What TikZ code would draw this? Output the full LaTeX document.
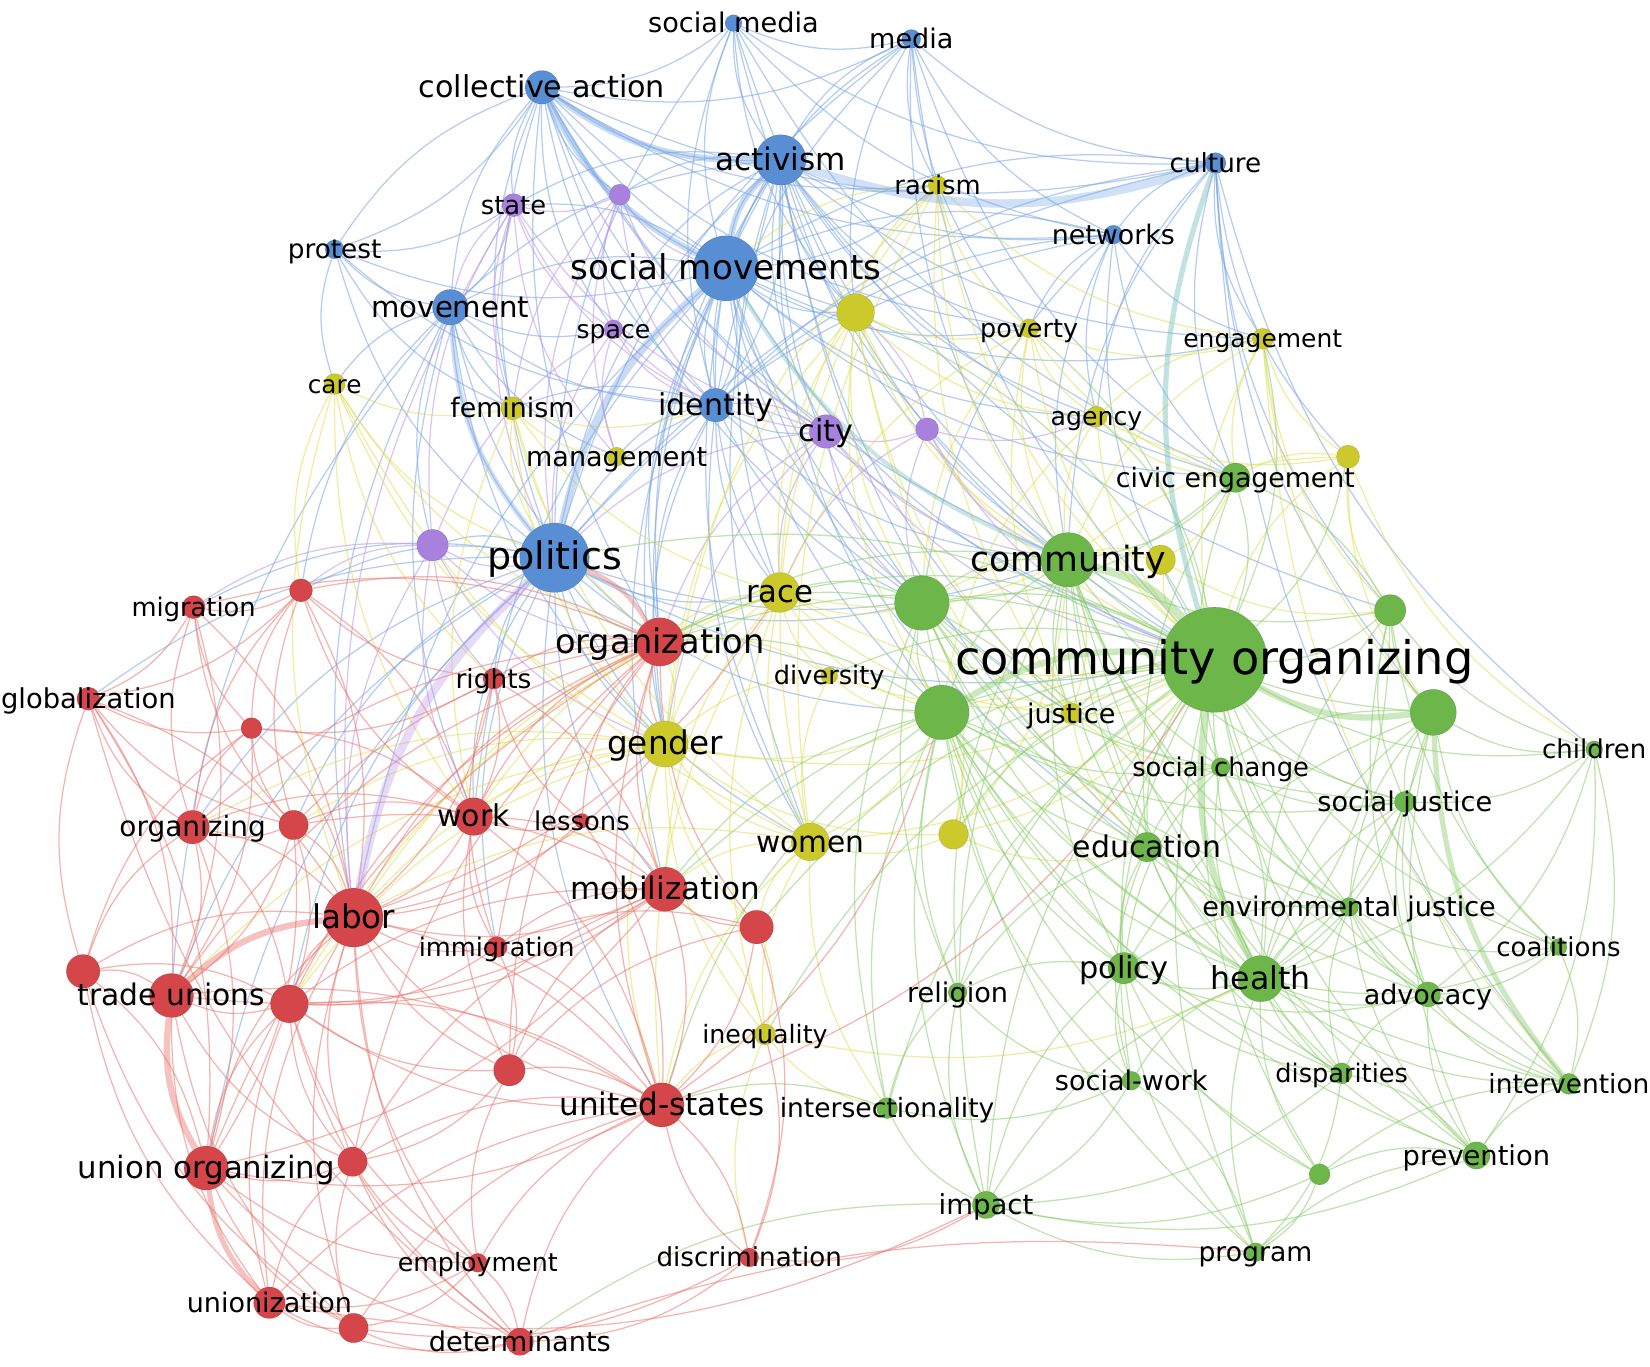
\documentclass[tikz,border=0pt]{standalone}
\usepackage{fontspec}
\setmainfont{DejaVu Sans}
\usepackage{graphicx}
\definecolor{vb}{RGB}{88,142,212}
\definecolor{vp}{RGB}{168,128,222}
\definecolor{vy}{RGB}{204,201,43}
\definecolor{vg}{RGB}{108,182,74}
\definecolor{vr}{RGB}{212,70,74}
\definecolor{eb}{RGB}{120,165,228}
\definecolor{ep}{RGB}{185,150,232}
\definecolor{ey}{RGB}{222,222,90}
\definecolor{eg}{RGB}{140,205,110}
\definecolor{er}{RGB}{232,120,112}
\definecolor{et}{RGB}{120,190,190}
\pgfdeclarelayer{bg}
\pgfsetlayers{bg,main}
\newcommand\edgefan[3]{\foreach \tg in {#3}{\draw[#1] (#2) to[bend right=18] (\tg);}}
\tikzset{
  kw/.style={circle, inner sep=0pt, draw=black, draw opacity=0.12, line width=0.3pt},
  lbl/.style={inner sep=0pt, text=black, yshift=-1.5pt},
  lk/.style={line width=0.6pt, draw opacity=0.55},
  lkB/.style={lk, draw=eb}, lkP/.style={lk, draw=ep}, lkY/.style={lk, draw=ey},
  lkG/.style={lk, draw=eg}, lkR/.style={lk, draw=er}
}
\begin{document}
\begin{tikzpicture}[x=0.5pt,y=-0.5pt]
\useasboundingbox (0,0) rectangle (1568,1299);
% nodes
\foreach \nm/\xx/\yy/\rr/\cl in {
socmedia/697/22/8/vb, media/866/37/9/vb, collact/515/83/16/vb, activism/742/152/24/vb, culture/1155/155/10/vb, networks/1058/223/9/vb, protest/318/237/9/vb, socmov/690/255/31/vb, movement/428/292/17/vb, identity/680/385/16/vb, politics/527/530/33/vb,
state/488/195/11/vp, pA/589/185/10/vp, space/583/313/9/vp, city/785/410/16/vp, pB/881/408/11/vp, pC/411/518/15/vp,
management/586/434/9/vy, racism/891/176/9/vy, yA/813/297/18/vy, poverty/978/312/9/vy, engagement/1200/322/10/vy, care/318/365/10/vy, feminism/487/388/11/vy, agency/1042/396/10/vy, yB/1281/434/11/vy, yC/1103/532/14/vy, race/741/563/19/vy, diversity/788/642/8/vy, justice/1018/678/10/vy, gender/632/707/22/vy, women/770/800/18/vy, yD/906/793/14/vy, inequality/727/983/10/vy,
civic/1174/454/14/vg, community/1015/532/26/vg, gA/876/573/26/vg, comorg/1154/627/50/vg, gB/1321/580/15/vg, gC/895/677/26/vg, gD/1362/677/22/vg, children/1515/712/8/vg, socchange/1160/729/9/vg, socjust/1335/762/10/vg, education/1090/805/14/vg, envjust/1282/862/9/vg, coalitions/1481/900/8/vg, policy/1068/920/15/vg, health/1198/930/22/vg, religion/910/943/9/vg, advocacy/1357/945/12/vg, socwork/1075/1027/9/vg, disparities/1275/1020/10/vg, intervention/1491/1030/10/vg, intersect/843/1053/10/vg, prevention/1403/1098/13/vg, gE/1254/1116/10/vg, impact/937/1145/13/vg, program/1193/1190/9/vg,
rA/286/561/11/vr, migration/184/577/11/vr, organization/627/610/23/vr, rights/469/645/10/vr, globalization/84/664/11/vr, rB/239/692/10/vr, organizing/183/786/16/vr, rC/279/784/14/vr, work/450/776/18/vr, lessons/553/780/7/vr, mobilization/632/845/21/vr, labor/336/872/28/vr, rD/719/881/16/vr, immigration/472/900/10/vr, rE/79/923/16/vr, tradeunions/163/946/21/vr, rF/275/954/18/vr, rG/484/1017/15/vr, unitedstates/629/1050/21/vr, unionorg/196/1110/21/vr, rH/335/1104/14/vr, employment/454/1200/9/vr, discrimination/712/1195/9/vr, unionization/256/1238/15/vr, rI/336/1262/14/vr, determinants/494/1275/13/vr}
  {\node[kw, fill=\cl, minimum size=\rr pt] (\nm) at (\xx,\yy) {};}
% labels
\foreach \nm/\w/\t in {
socmedia/81/social media, media/40/media, collact/117/collective action, activism/62/activism, culture/43.5/culture, networks/58.5/networks, protest/44.5/protest, socmov/147.5/social movements, movement/75/movement, identity/54.5/identity, politics/64/politics,
state/31/state, space/35/space, city/26/city, management/86/management, racism/41/racism, poverty/46.5/poverty, engagement/75.5/engagement, care/25.5/care, feminism/59/feminism, agency/43.5/agency, race/32/race, diversity/52.5/diversity, justice/42/justice, gender/55/gender, women/51.5/women, inequality/59.5/inequality,
civic/113.5/civic engagement, community/93/community, comorg/246/community organizing, children/49.5/children, socchange/84/social change, socjust/83/social justice, education/70.5/education, envjust/139.5/environmental justice, coalitions/59/coalitions, policy/42.5/policy, health/47.5/health, religion/48/religion, advocacy/61/advocacy, socwork/72.5/social-work, disparities/63/disparities, intervention/76.5/intervention, intersect/102/intersectionality, prevention/70/prevention, impact/45/impact, program/54/program,
migration/59/migration, organization/99.5/organization, rights/36/rights, globalization/83/globalization, organizing/69.5/organizing, work/34.5/work, lessons/45.5/lessons, mobilization/90/mobilization, labor/39.5/labor, immigration/74/immigration, tradeunions/89/trade unions, unitedstates/97.5/united-states, unionorg/122/union organizing, employment/76/employment, discrimination/88/discrimination, unionization/78.5/unionization, determinants/86.5/determinants}
  {\node[lbl] (l-\nm) at (\nm) {\resizebox{\w pt}{!}{\strut\t}};}
\begin{pgfonlayer}{bg}
% blue
\edgefan{lkB}{collact}{socmedia,activism,socmov,movement,protest,state,politics,identity,culture,media,pA,space,feminism,city,networks,comorg,community,organization,gA,yA,racism,poverty}
\edgefan{lkB}{socmedia}{activism,socmov,media,identity,politics,networks,culture,yA,civic,community,comorg}
\edgefan{lkB}{media}{activism,socmov,culture,networks,identity,politics,racism,poverty,comorg,community,civic,yA}
\edgefan{lkB}{activism}{socmov,politics,identity,networks,city,race,yA,community,comorg,gA,gC,gender,movement,state,pA,space,racism,poverty,organization,women,civic,engagement,agency,justice,education,gB}
\edgefan{lkB}{culture}{networks,socmov,identity,politics,gD,community,civic,engagement,agency,children,yB,gB,intervention}
\edgefan{lkB}{networks}{socmov,community,comorg,civic,gA,agency,poverty,engagement,identity,politics}
\edgefan{lkB}{protest}{movement,state,collact,socmov,politics,care,identity,feminism}
\edgefan{lkB}{socmov}{identity,movement,state,city,comorg,gA,gC,race,gender,organization,labor,work,women,justice,yA,poverty,education,civic,agency,engagement,racism,mobilization}
\edgefan{lkB}{movement}{politics,identity,state,feminism,labor,work,organization,gender,care,space,management,pC,rA,tradeunions}
\edgefan{lkB}{identity}{politics,gender,race,city,organization,women,community,gA,feminism,management,socmov,activism}
\edgefan{lkB}{politics}{organization,work,gender,race,rights,pC,community,comorg,gA,gC,mobilization,tradeunions,unitedstates,rA,migration,women,immigration,rC,rF,unionorg,globalization,organizing}
% purple
\edgefan{lkP}{state}{pA,space,politics,movement,feminism,management,city,pC,identity,labor}
\edgefan{lkP}{pA}{space,city,politics,identity,socmov,management,feminism}
\edgefan{lkP}{space}{city,politics,management,pC,identity}
\edgefan{lkP}{city}{pB,politics,community,comorg,gA,race,gender,organization,identity}
\edgefan{lkP}{pB}{community,comorg,gA,race,yA,agency}
\edgefan{lkP}{pC}{politics,organization,rA,migration,rights,work,labor,gender}
% yellow
\edgefan{lkY}{racism}{yA,poverty,race,gender,community,comorg,justice,socmov,engagement,women}
\edgefan{lkY}{yA}{poverty,race,community,comorg,gA,gC,justice,gender,women,education,agency}
\edgefan{lkY}{poverty}{agency,community,comorg,gA,civic,justice,race,engagement}
\edgefan{lkY}{engagement}{civic,comorg,community,agency,yB,gB,gD,intervention}
\edgefan{lkY}{care}{feminism,gender,work,labor,politics,women,organization,rights,rA}
\edgefan{lkY}{feminism}{gender,women,management,organization,politics,work,race,identity}
\edgefan{lkY}{agency}{civic,community,comorg,yB,gC}
\edgefan{lkY}{yB}{civic,comorg,gB,gD,children,community}
\edgefan{lkY}{yC}{community,comorg,civic,gB,gA}
\edgefan{lkY}{race}{gender,women,organization,community,comorg,gA,gC,justice,diversity,unitedstates,mobilization,labor,inequality,work,rF}
\edgefan{lkY}{diversity}{organization,gC,comorg,gender,women}
\edgefan{lkY}{justice}{comorg,community,gC,socchange,education}
\edgefan{lkY}{gender}{women,organization,mobilization,labor,work,unitedstates,inequality,rD,comorg,gC,yD,rF,tradeunions,organizing,rC}
\edgefan{lkY}{women}{mobilization,yD,inequality,unitedstates,labor,rD,gC,comorg,intersect}
\edgefan{lkY}{yD}{comorg,gC,education,community,gA}
\edgefan{lkY}{inequality}{unitedstates,intersect,health,rD,mobilization,discrimination}
% green
\edgefan{lkG}{comorg}{gA,gB,civic,socchange,socjust,education,envjust,policy,advocacy,religion,socwork,disparities,coalitions,children,intervention,prevention,impact,program,gE,intersect,justice,organization,politics,race,yA,engagement,yB,agency,poverty,rD,women,mobilization,yD,diversity,inequality}
\edgefan{lkG}{community}{gA,gC,civic,socchange,education,health,policy,gB,gD,justice,organization,socjust,advocacy,envjust,disparities,impact,religion,prevention}
\edgefan{lkG}{gA}{gC,civic,education,policy,health,religion,intersect,organization,race,socchange,socjust,envjust,advocacy}
\edgefan{lkG}{gC}{education,policy,health,religion,socwork,intersect,impact,socjust,socchange,organization,mobilization,unitedstates,prevention,disparities,program,gE,intervention}
\edgefan{lkG}{gB}{gD,civic,socjust,children,coalitions,health,advocacy}
\edgefan{lkG}{gD}{socjust,envjust,advocacy,health,children,coalitions,prevention,policy,socchange}
\edgefan{lkG}{civic}{socchange,education}
\edgefan{lkG}{socchange}{socjust,education,envjust,health,policy}
\edgefan{lkG}{socjust}{envjust,advocacy,health,coalitions,children,intervention}
\edgefan{lkG}{education}{policy,health,envjust,socwork,religion,disparities}
\edgefan{lkG}{envjust}{health,advocacy,coalitions,policy,disparities,intervention,prevention}
\edgefan{lkG}{policy}{health,advocacy,socwork,disparities,religion,impact,program,gE}
\edgefan{lkG}{health}{advocacy,disparities,prevention,intervention,socwork,program,gE,impact,coalitions,children,gC,gA,education,socchange,socjust,envjust,gD,gB}
\edgefan{lkG}{advocacy}{prevention,intervention,coalitions,disparities,children}
\edgefan{lkG}{intervention}{prevention,children,coalitions,gE}
\edgefan{lkG}{prevention}{gE,program,disparities,children}
\edgefan{lkG}{religion}{intersect,impact,socwork}
\edgefan{lkG}{intersect}{impact,unitedstates,socwork}
\edgefan{lkG}{impact}{program,gE,socwork,disparities,prevention,determinants}
\edgefan{lkG}{program}{gE,socwork,disparities}
% red
\edgefan{lkR}{organization}{mobilization,labor,work,rights,unitedstates,rD,gender,lessons,immigration,rG,tradeunions,rF,rC,organizing,rA,migration,unionorg,rH}
\edgefan{lkR}{labor}{rF,work,rC,organizing,unionorg,rE,mobilization,immigration,rG,unitedstates,rH,globalization,rB,migration,rights,rA,unionization,employment,rI,determinants,lessons,gender,race}
\edgefan{lkR}{tradeunions}{rE,rF,organizing,globalization,rC,rB,unionization,rH,migration,mobilization,rI}
\edgefan{lkR}{rF}{unionorg,rH,rC,organizing,rE,unitedstates,rG,unionization,employment,determinants,immigration,mobilization}
\edgefan{lkR}{unionorg}{rH,rI,rE,globalization,employment,determinants,organizing,rC,unitedstates,mobilization}
\edgefan{lkR}{unitedstates}{rG,mobilization,rD,immigration,discrimination,employment,determinants,rH,unionization,rI,work,lessons,tradeunions,rF,labor,gC,comorg}
\edgefan{lkR}{mobilization}{rD,work,lessons,immigration,rG,rC,rights,rF,rH}
\edgefan{lkR}{work}{rights,lessons,rC,organizing,immigration,rG,rA,rB}
\edgefan{lkR}{globalization}{migration,rA,rB,organizing,rE,rC,determinants}
\edgefan{lkR}{migration}{rA,rB,organizing,rC}
\edgefan{lkR}{rA}{rB,rC,rights,work,organizing}
\edgefan{lkR}{rB}{organizing,rC,rE,rights}
\edgefan{lkR}{organizing}{rC,rE}
\edgefan{lkR}{rE}{unionization,rI}
\edgefan{lkR}{rH}{unionization,rI,employment,determinants,rG}
\edgefan{lkR}{unionization}{rI,determinants,employment,impact}
\edgefan{lkR}{rI}{determinants,employment,discrimination}
\edgefan{lkR}{determinants}{employment,discrimination}
\edgefan{lkR}{discrimination}{unitedstates,rD,inequality,impact}
\edgefan{lkR}{rD}{immigration,rG}
\edgefan{lkR}{rG}{immigration,employment}
\edgefan{lkR}{rights}{lessons,immigration}
\draw[lkR] (determinants) to[bend left=12] (program);
% heavier links
\draw[lkB, line width=4pt, draw opacity=0.35] (activism) to[bend right=18] (culture);
\draw[lkB, line width=3pt, draw opacity=0.4] (collact) to[bend right=18] (activism);
\draw[lkB, line width=3pt, draw opacity=0.4] (collact) to[bend right=18] (socmov);
\draw[lkB, line width=3pt, draw opacity=0.4] (activism) to[bend right=18] (socmov);
\draw[lkB, line width=3.5pt, draw opacity=0.4] (socmov) to[bend right=18] (politics);
\draw[lkB, line width=2.5pt, draw opacity=0.35] (movement) to[bend right=18] (politics);
\draw[lkP, line width=4pt, draw opacity=0.35] (politics) to[bend right=18] (labor);
\draw[draw=et, line width=2.5pt, draw opacity=0.45] (culture) to[bend right=18] (comorg);
\draw[draw=et, line width=2pt, draw opacity=0.4] (socmov) to[bend right=18] (community);
\draw[lkG, line width=4pt, draw opacity=0.45] (comorg) to[bend right=18] (community);
\draw[lkG, line width=3pt, draw opacity=0.45] (comorg) to[bend right=18] (gC);
\draw[lkG, line width=3pt, draw opacity=0.45] (comorg) to[bend right=18] (gD);
\draw[lkG, line width=3pt, draw opacity=0.45] (comorg) to[bend right=18] (health);
\draw[lkG, line width=2.5pt, draw opacity=0.45] (gD) to[bend right=18] (intervention);
\draw[lkR, line width=3pt, draw opacity=0.45] (labor) to[bend right=18] (tradeunions);
\draw[lkR, line width=3pt, draw opacity=0.45] (tradeunions) to[bend right=18] (unionorg);
\draw[lkR, line width=2.5pt, draw opacity=0.45] (unionorg) to[bend right=18] (unionization);
\draw[lkR, line width=2pt, draw opacity=0.45] (organization) to[bend right=18] (politics);
\end{pgfonlayer}
\end{tikzpicture}
\end{document}
